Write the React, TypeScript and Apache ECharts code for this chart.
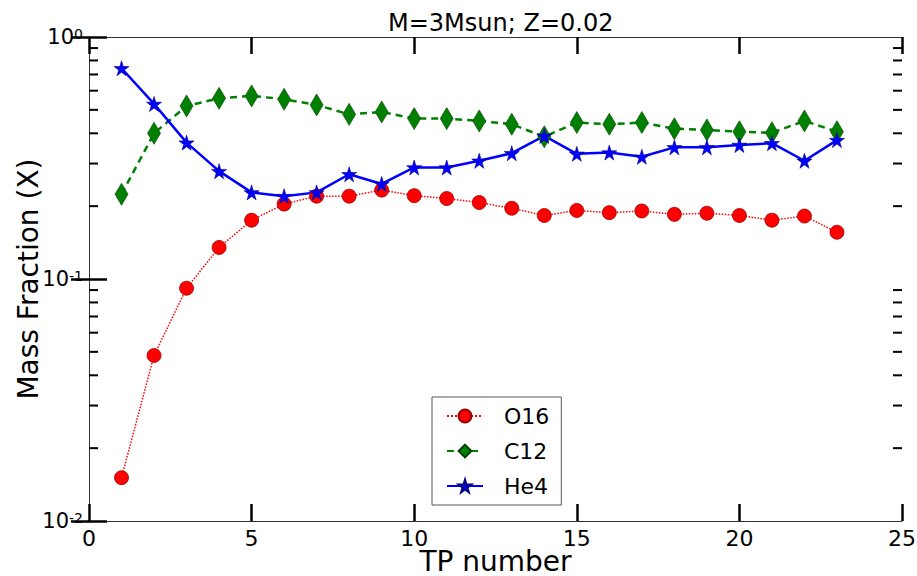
import React, { useEffect, useRef } from "react";
import * as echarts from "echarts";

const tpNumbers = [1, 2, 3, 4, 5, 6, 7, 8, 9, 10, 11, 12, 13, 14, 15, 16, 17, 18, 19, 20, 21, 22, 23];
const o16 = [0.0151, 0.0483, 0.0916, 0.135, 0.175, 0.204, 0.22, 0.22, 0.233, 0.221, 0.215, 0.207, 0.196, 0.183, 0.192, 0.188, 0.191, 0.185, 0.187, 0.183, 0.175, 0.182, 0.156];
const c12 = [0.224, 0.4, 0.519, 0.558, 0.571, 0.553, 0.524, 0.479, 0.49, 0.46, 0.46, 0.45, 0.436, 0.387, 0.443, 0.436, 0.443, 0.418, 0.413, 0.406, 0.402, 0.45, 0.406];
const he4 = [0.743, 0.529, 0.366, 0.279, 0.228, 0.22, 0.228, 0.271, 0.247, 0.289, 0.289, 0.308, 0.331, 0.39, 0.329, 0.333, 0.32, 0.35, 0.35, 0.358, 0.364, 0.308, 0.375];
const yMinorTickValues = [0.02, 0.03, 0.04, 0.05, 0.06, 0.07, 0.08, 0.09, 0.2, 0.3, 0.4, 0.5, 0.6, 0.7, 0.8, 0.9];

const FONT = "'DejaVu Sans', sans-serif";
const TICK = "#000000";
const STAR = "path://M50,0 L61,35 L98,35 L68,57 L79,91 L50,70 L21,91 L32,57 L2,35 L39,35 Z";

export default function App() {
  const ref = useRef<HTMLDivElement>(null);
  useEffect(() => {
    if (!ref.current) return;
    const chart = echarts.init(ref.current, null, { renderer: "svg" });
    const pair = (arr: number[]) => tpNumbers.map((x, i) => [x, arr[i]]);
    const seg = (x1: number, y1: number, x2: number, y2: number) => ({
      type: "line",
      shape: { x1, y1, x2, y2 },
      style: { stroke: TICK, lineWidth: 2 },
    });
    chart.setOption({
      animation: false,
      backgroundColor: "#fff",
      title: {
        text: "M=3Msun; Z=0.02",
        left: 383,
        top: 6,
        textStyle: { fontFamily: FONT, fontSize: 24, fontWeight: "normal", color: "#000" },
      },
      grid: { left: 89, right: 15, top: 37, bottom: 55, outerBoundsMode: "none" },
      legend: {
        data: ["O16", "C12", "He4"],
        orient: "vertical",
        left: 432,
        top: 397,
        padding: [8, 12, 8, 14],
        itemGap: 13,
        itemWidth: 36,
        itemHeight: 16,
        borderColor: "#555",
        borderWidth: 1,
        textStyle: { fontFamily: FONT, fontSize: 22, color: "#000", padding: [0, 0, 0, 16] },
      },
      xAxis: [
        {
          type: "value",
          min: 0,
          max: 25,
          interval: 5,
          position: "bottom",
          name: "TP number",
          nameLocation: "middle",
          nameGap: 26,
          nameMoveOverlap: false,
          nameTextStyle: { fontFamily: FONT, fontSize: 28, color: "#000" },
          axisLine: { show: true, onZero: false, lineStyle: { color: "#333", width: 1 } },
          axisTick: { show: true, inside: true, length: 17, lineStyle: { color: TICK, width: 2.5 } },
          axisLabel: { fontFamily: FONT, fontSize: 22, color: "#000", margin: 6 },
          splitLine: { show: false },
        },
        {
          type: "value",
          min: 0,
          max: 25,
          interval: 5,
          position: "top",
          axisLine: { show: true, onZero: false, lineStyle: { color: "#333", width: 1 } },
          axisTick: { show: true, inside: true, length: 17, lineStyle: { color: TICK, width: 2.5 } },
          axisLabel: { show: false },
          splitLine: { show: false },
        },
      ],
      yAxis: [
        {
          type: "log",
          min: 0.01,
          max: 1,
          position: "left",
          name: "Mass Fraction (X)",
          nameLocation: "middle",
          nameGap: 47,
          nameMoveOverlap: false,
          nameTextStyle: { fontFamily: FONT, fontSize: 28, color: "#000" },
          axisLine: { show: true, lineStyle: { color: "#333", width: 1 } },
          axisTick: { show: true, inside: true, length: 18, lineStyle: { color: TICK, width: 2.5 } },
          axisLabel: {
            margin: 6,
            formatter: (v: number) => `{b|10}{s|${Math.round(Math.log10(v))}}`,
            rich: {
              b: { fontFamily: FONT, fontSize: 21, color: "#000" },
              s: { fontFamily: FONT, fontSize: 14, color: "#000", verticalAlign: "top" },
            },
          },
          splitLine: { show: false },
        },
        {
          type: "log",
          min: 0.01,
          max: 1,
          position: "right",
          axisLine: { show: true, lineStyle: { color: "#333", width: 1 } },
          axisTick: { show: true, inside: true, length: 18, lineStyle: { color: TICK, width: 2.5 } },
          axisLabel: { show: false },
          splitLine: { show: false },
        },
      ],
      series: [
        {
          type: "custom",
          name: "yMinorTicks",
          data: yMinorTickValues.map((v) => [1, v]),
          renderItem: (params: any, api: any) => {
            const cs = params.coordSys;
            const y = api.coord([1, api.value(1)])[1];
            const r = cs.x + cs.width;
            return { type: "group", children: [seg(cs.x, y, cs.x + 9, y), seg(r - 9, y, r, y)] };
          },
        },
        {
          type: "line",
          name: "O16",
          data: pair(o16),
          symbol: "circle",
          symbolSize: 14,
          color: "#ff0000",
          lineStyle: { color: "#ff0000", width: 1.5, type: "dotted" },
          itemStyle: { color: "#ff0000", borderColor: "#9a0000", borderWidth: 0.8 },
        },
        {
          type: "line",
          name: "C12",
          data: pair(c12),
          symbol: "diamond",
          symbolSize: [13, 22],
          color: "#008000",
          lineStyle: { color: "#008000", width: 2.5, type: [7, 5] },
          itemStyle: { color: "#008000", borderColor: "#004000", borderWidth: 0.6 },
        },
        {
          type: "line",
          name: "He4",
          data: pair(he4),
          symbol: STAR,
          symbolSize: 15,
          color: "#0000ff",
          lineStyle: { color: "#0000ff", width: 2.5, type: "solid" },
          itemStyle: { color: "#0000ff", borderColor: "#000080", borderWidth: 0.6 },
        },
      ],
    });
    return () => chart.dispose();
  }, []);
  return <div ref={ref} style={{ position: "fixed", left: 0, top: 0, width: 917, height: 576 }} />;
}
